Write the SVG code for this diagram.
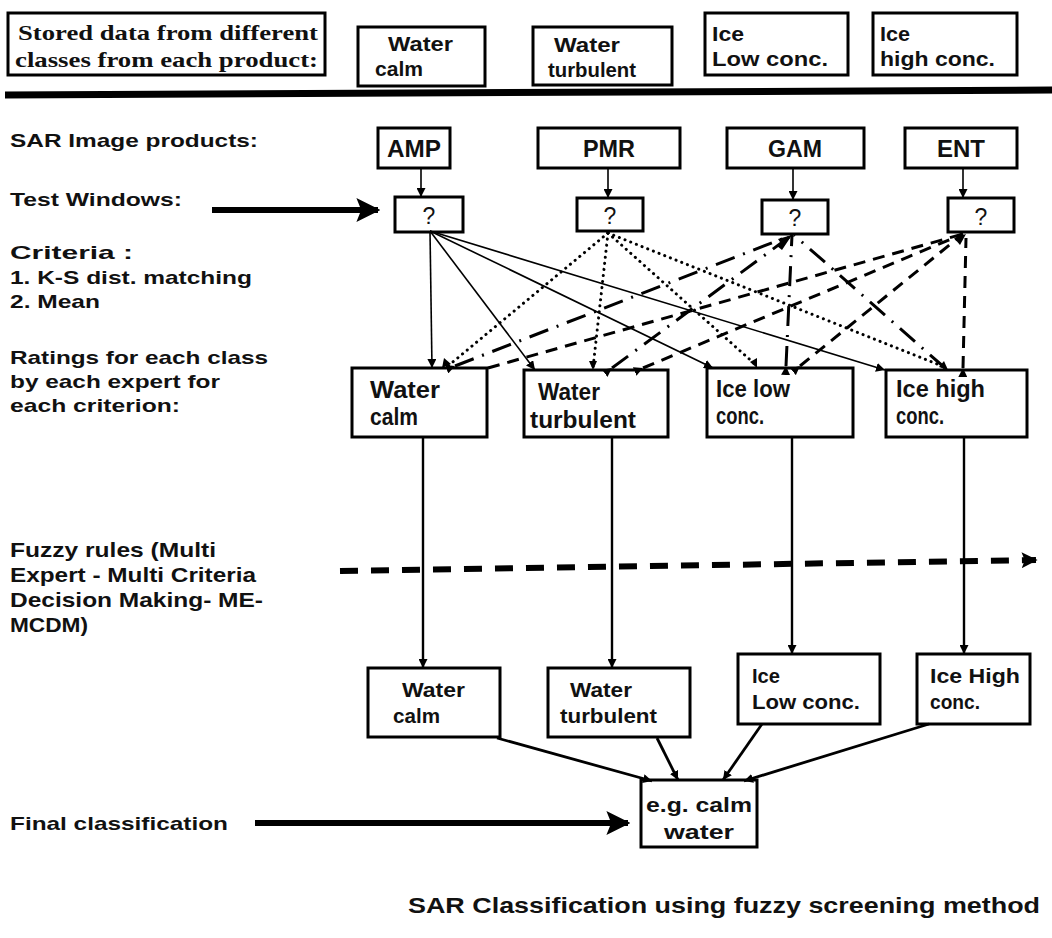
<svg xmlns="http://www.w3.org/2000/svg" width="1052" height="938" viewBox="0 0 1052 938">
<style>
.bx{fill:#fff;stroke:#000;stroke-width:3}
.t{font-family:"Liberation Sans",Arial,sans-serif;font-weight:bold;font-size:19px;fill:#111}
.n{font-family:"Liberation Sans",Arial,sans-serif;font-weight:bold;font-size:23px;fill:#111}
.m{font-family:"Liberation Sans",Arial,sans-serif;font-weight:bold;font-size:21px;fill:#111}
.s{font-family:"Liberation Serif","Times New Roman",serif;font-weight:bold;font-size:22px;fill:#111}
.sol{stroke:#000;stroke-width:1.6;fill:none}
.v{stroke:#000;stroke-width:2.4;fill:none}
.dot{stroke:#000;stroke-width:3;fill:none;stroke-dasharray:0.1 6;stroke-linecap:round}
.ldd{stroke:#000;stroke-width:3;fill:none;stroke-dasharray:20 9 2 9}
.dsh{stroke:#000;stroke-width:3;fill:none;stroke-dasharray:12 8}
</style>
<defs>
<marker id="a" viewBox="0 0 10 10" refX="10" refY="5" markerWidth="9" markerHeight="9" markerUnits="userSpaceOnUse" orient="auto"><path d="M0,0L10,5L0,10z" fill="#000"/></marker>
<marker id="ab" viewBox="0 0 10 10" refX="9" refY="5" markerWidth="4" markerHeight="4" orient="auto"><path d="M0,0L10,5L0,10L2,5z" fill="#000"/></marker>
<marker id="af" viewBox="0 0 10 10" refX="9" refY="5" markerWidth="16" markerHeight="16" markerUnits="userSpaceOnUse" orient="auto"><path d="M0,0L10,5L0,10L2,5z" fill="#000"/></marker>
</defs>
<rect width="1052" height="938" fill="#fff"/>

<g id="stored"><rect class="bx" x="8" y="13" width="317" height="62"/><text class="s" x="18" y="40" textLength="300" lengthAdjust="spacingAndGlyphs">Stored data from different</text><text class="s" x="15" y="67" textLength="303" lengthAdjust="spacingAndGlyphs">classes from each product:</text></g>
<g id="top-water-calm"><rect class="bx" x="358" y="27" width="127" height="59"/><text class="m" x="388" y="51" textLength="65" lengthAdjust="spacingAndGlyphs">Water</text><text class="m" x="375" y="76" textLength="48" lengthAdjust="spacingAndGlyphs">calm</text></g>
<g id="top-water-turb"><rect class="bx" x="533" y="27" width="139" height="58"/><text class="m" x="554" y="52" textLength="66" lengthAdjust="spacingAndGlyphs">Water</text><text class="m" x="548" y="77" textLength="88" lengthAdjust="spacingAndGlyphs">turbulent</text></g>
<g id="top-ice-low"><rect class="bx" x="705" y="13" width="143" height="62"/><text class="m" x="712" y="41" textLength="32" lengthAdjust="spacingAndGlyphs">Ice</text><text class="m" x="712" y="66" textLength="116" lengthAdjust="spacingAndGlyphs">Low conc.</text></g>
<g id="top-ice-high"><rect class="bx" x="873" y="13" width="144" height="62"/><text class="m" x="880" y="41" textLength="30" lengthAdjust="spacingAndGlyphs">Ice</text><text class="m" x="880" y="66" textLength="115" lengthAdjust="spacingAndGlyphs">high conc.</text></g>
<line x1="5" y1="95" x2="1052" y2="90" stroke="#000" stroke-width="7"/>

<g id="labels">
<text class="t" x="10" y="147" textLength="248" lengthAdjust="spacingAndGlyphs">SAR Image products:</text>
<text class="t" x="10" y="206" textLength="172" lengthAdjust="spacingAndGlyphs">Test Windows:</text>
<text class="t" x="10" y="259" textLength="123" lengthAdjust="spacingAndGlyphs">Criteria :</text>
<text class="t" x="10" y="284" textLength="242" lengthAdjust="spacingAndGlyphs">1. K-S dist. matching</text>
<text class="t" x="10" y="308" textLength="90" lengthAdjust="spacingAndGlyphs">2. Mean</text>
<text class="t" x="10" y="364" textLength="258" lengthAdjust="spacingAndGlyphs">Ratings for each class</text>
<text class="t" x="10" y="388" textLength="210" lengthAdjust="spacingAndGlyphs">by each expert for</text>
<text class="t" x="10" y="412" textLength="170" lengthAdjust="spacingAndGlyphs">each criterion:</text>
<text class="m" x="10" y="557" textLength="206" lengthAdjust="spacingAndGlyphs">Fuzzy rules (Multi</text>
<text class="m" x="10" y="582" textLength="246" lengthAdjust="spacingAndGlyphs">Expert - Multi Criteria</text>
<text class="m" x="10" y="607" textLength="253" lengthAdjust="spacingAndGlyphs">Decision Making- ME-</text>
<text class="m" x="10" y="632" textLength="78" lengthAdjust="spacingAndGlyphs">MCDM)</text>
<text class="t" x="10" y="830" textLength="218" lengthAdjust="spacingAndGlyphs">Final classification</text>
<text class="t" x="408" y="913" style="font-size:22px" textLength="632" lengthAdjust="spacingAndGlyphs">SAR Classification using fuzzy screening method</text>
</g>

<g id="amp"><rect class="bx" x="378" y="128" width="72" height="40"/><text class="n" x="414" y="157" text-anchor="middle" textLength="54" lengthAdjust="spacingAndGlyphs">AMP</text></g>
<g id="pmr"><rect class="bx" x="538" y="128" width="142" height="40"/><text class="n" x="609" y="157" text-anchor="middle" textLength="52" lengthAdjust="spacingAndGlyphs">PMR</text></g>
<g id="gam"><rect class="bx" x="727" y="128" width="137" height="40"/><text class="n" x="795" y="157" text-anchor="middle" textLength="54" lengthAdjust="spacingAndGlyphs">GAM</text></g>
<g id="ent"><rect class="bx" x="905" y="128" width="112" height="40"/><text class="n" x="961" y="157" text-anchor="middle" textLength="48" lengthAdjust="spacingAndGlyphs">ENT</text></g>

<g id="tw-amp"><rect class="bx" x="395" y="197" width="68" height="35"/><text class="n" x="429" y="224" text-anchor="middle" style="font-weight:normal">?</text></g>
<g id="tw-pmr"><rect class="bx" x="577" y="198" width="66" height="33"/><text class="n" x="610" y="224" text-anchor="middle" style="font-weight:normal">?</text></g>
<g id="tw-gam"><rect class="bx" x="762" y="200" width="66" height="34"/><text class="n" x="795" y="226" text-anchor="middle" style="font-weight:normal">?</text></g>
<g id="tw-ent"><rect class="bx" x="948" y="198" width="66" height="34"/><text class="n" x="981" y="225" text-anchor="middle" style="font-weight:normal">?</text></g>

<g id="r-water-calm"><rect class="bx" x="352" y="368" width="135" height="69"/><text class="n" x="370" y="398" textLength="70" lengthAdjust="spacingAndGlyphs">Water</text><text class="n" x="370" y="425" textLength="48" lengthAdjust="spacingAndGlyphs">calm</text></g>
<g id="r-water-turb"><rect class="bx" x="524" y="370" width="144" height="67"/><text class="n" x="538" y="400" textLength="62" lengthAdjust="spacingAndGlyphs">Water</text><text class="n" x="530" y="428" textLength="106" lengthAdjust="spacingAndGlyphs">turbulent</text></g>
<g id="r-ice-low"><rect class="bx" x="707" y="368" width="146" height="69"/><text class="n" x="716" y="397" textLength="74" lengthAdjust="spacingAndGlyphs">Ice low</text><text class="n" x="716" y="424" textLength="48" lengthAdjust="spacingAndGlyphs">conc.</text></g>
<g id="r-ice-high"><rect class="bx" x="886" y="370" width="141" height="67"/><text class="n" x="896" y="397" textLength="89" lengthAdjust="spacingAndGlyphs">Ice high</text><text class="n" x="896" y="424" textLength="48" lengthAdjust="spacingAndGlyphs">conc.</text></g>

<g id="b-water-calm"><rect class="bx" x="368" y="668" width="132" height="69"/><text class="m" x="402" y="697" textLength="63" lengthAdjust="spacingAndGlyphs">Water</text><text class="m" x="393" y="723" textLength="47" lengthAdjust="spacingAndGlyphs">calm</text></g>
<g id="b-water-turb"><rect class="bx" x="548" y="668" width="142" height="69"/><text class="m" x="570" y="697" textLength="62" lengthAdjust="spacingAndGlyphs">Water</text><text class="m" x="560" y="723" textLength="97" lengthAdjust="spacingAndGlyphs">turbulent</text></g>
<g id="b-ice-low"><rect class="bx" x="738" y="654" width="142" height="70"/><text class="m" x="752" y="683" textLength="28" lengthAdjust="spacingAndGlyphs">Ice</text><text class="m" x="752" y="709" textLength="108" lengthAdjust="spacingAndGlyphs">Low conc.</text></g>
<g id="b-ice-high"><rect class="bx" x="917" y="654" width="113" height="70"/><text class="m" x="930" y="683" textLength="90" lengthAdjust="spacingAndGlyphs">Ice High</text><text class="m" x="930" y="709" textLength="50" lengthAdjust="spacingAndGlyphs">conc.</text></g>

<g id="final"><rect class="bx" x="641" y="780" width="116" height="67"/><text class="t" x="699" y="812" text-anchor="middle" style="font-size:21px" textLength="106" lengthAdjust="spacingAndGlyphs">e.g. calm</text><text class="t" x="699" y="839" text-anchor="middle" style="font-size:21px" textLength="70" lengthAdjust="spacingAndGlyphs">water</text></g>

<g id="connectors">
<line x1="212" y1="210" x2="378" y2="210" stroke="#000" stroke-width="6" marker-end="url(#ab)"/>
<line x1="255" y1="823" x2="628" y2="823" stroke="#000" stroke-width="6" marker-end="url(#ab)"/>
<line x1="340" y1="571" x2="1036" y2="560" stroke="#000" stroke-width="6" stroke-dasharray="18 13" marker-end="url(#af)"/>

<line class="sol" x1="421" y1="168" x2="421" y2="197" marker-end="url(#a)"/>
<line class="sol" x1="608" y1="168" x2="608" y2="198" marker-end="url(#a)"/>
<line class="sol" x1="793" y1="168" x2="793" y2="200" marker-end="url(#a)"/>
<line class="sol" x1="963" y1="168" x2="963" y2="198" marker-end="url(#a)"/>

<line class="sol" x1="430" y1="231" x2="432" y2="368" marker-end="url(#a)"/>
<line class="sol" x1="430" y1="231" x2="535" y2="370" marker-end="url(#a)"/>
<line class="sol" x1="430" y1="231" x2="713" y2="368" marker-end="url(#a)"/>
<line class="sol" x1="430" y1="231" x2="885" y2="370" marker-end="url(#a)"/>

<line class="dot" x1="608" y1="233" x2="448" y2="366"/>
<line class="dot" x1="608" y1="233" x2="593" y2="368"/>
<line class="dot" x1="608" y1="233" x2="757" y2="366"/>
<line class="dot" x1="608" y1="233" x2="947" y2="368"/>
<g fill="#000"><path d="M442,368l2,-10l7,6z"/><path d="M593,370l-4,-9h8z"/><path d="M757,368l-7,-6l7,-4z"/><path d="M948,370l-9,-3l5,-6z"/></g>

<line class="ldd" x1="455" y1="366" x2="792" y2="235" marker-start="url(#a)"/>
<line class="ldd" x1="612" y1="368" x2="792" y2="235" marker-start="url(#a)"/>
<line class="ldd" x1="786" y1="366" x2="792" y2="235" marker-start="url(#a)"/>
<line class="ldd" x1="945" y1="368" x2="794" y2="235"/>
<path d="M792,235l-14,4l4,6zM792,235l-15,11l5,4z" fill="#000"/>

<line class="dsh" x1="488" y1="368" x2="963" y2="234"/>
<line class="dsh" x1="643" y1="368" x2="963" y2="234" marker-start="url(#a)"/>
<line class="dsh" x1="800" y1="366" x2="963" y2="234" marker-start="url(#a)"/>
<line class="dsh" x1="963" y1="368" x2="966" y2="238" marker-start="url(#a)"/>
<path d="M966,234l-12,4l6,7z" fill="#000"/>

<line class="v" x1="423" y1="437" x2="423" y2="668" marker-end="url(#a)"/>
<line class="v" x1="612" y1="437" x2="612" y2="668" marker-end="url(#a)"/>
<line class="v" x1="792" y1="437" x2="792" y2="654" marker-end="url(#a)"/>
<line class="v" x1="964" y1="437" x2="964" y2="654" marker-end="url(#a)"/>

<line class="v" style="stroke-width:2.8" x1="497" y1="738" x2="652" y2="781" marker-end="url(#a)"/>
<line class="v" style="stroke-width:2.8" x1="657" y1="738" x2="678" y2="780" marker-end="url(#a)"/>
<line class="v" style="stroke-width:2.8" x1="762" y1="724" x2="723" y2="780" marker-end="url(#a)"/>
<line class="v" style="stroke-width:2.8" x1="929" y1="724" x2="744" y2="781" marker-end="url(#a)"/>
</g>
</svg>
